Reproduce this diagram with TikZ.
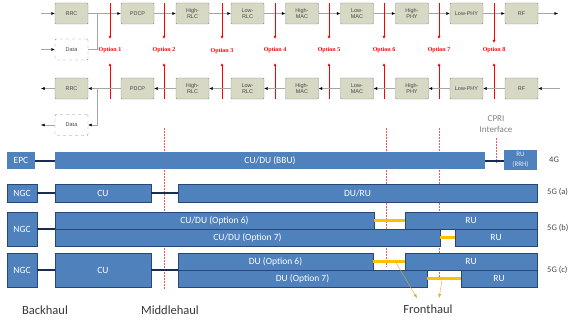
\documentclass[tikz,border=0pt]{standalone}
\usepackage{fontspec}
\setmainfont{Carlito}
\newfontfamily\arialfont{Liberation Sans}
\newfontfamily\timesfont{Liberation Serif}
\usetikzlibrary{arrows.meta,calc,positioning}
\definecolor{boxfill}{RGB}{215,217,197}
\definecolor{boxline}{RGB}{140,140,140}
\definecolor{optred}{RGB}{255,0,0}
\definecolor{cutred}{RGB}{240,90,90}
\definecolor{barblue}{RGB}{79,129,189}
\definecolor{barline}{RGB}{40,70,120}
\definecolor{linknavy}{RGB}{25,45,80}
\definecolor{fhyellow}{RGB}{255,192,0}
\definecolor{fharrow}{RGB}{225,170,40}
\definecolor{txtgray}{RGB}{70,70,70}

\tikzset{
    layer/.style={draw=boxline, fill=boxfill, rounded corners=1pt, minimum width=33pt,
        minimum height=21pt, inner sep=0pt, align=center, text=txtgray,
        font=\arialfont\fontsize{5.5}{6.5}\selectfont},
    databox/.style={layer, dashed, fill=white},
    flow/.style={draw=gray!70, thin, -{Latex[length=3.5pt, width=3pt, black]}},
    optarrow/.style={draw=optred, line width=0.8pt, -{Latex[length=3pt, width=3pt]}},
    optlabel/.style={text=optred, font=\timesfont\bfseries\fontsize{6}{7}\selectfont},
    cut/.style={draw=cutred, line width=0.7pt, dash pattern=on 1.6pt off 1.4pt},
    bar/.style={fill=barblue, draw=barline, line width=0.5pt, inner sep=0pt, text=white,
        font=\fontsize{9.5}{11}\selectfont},
    link/.style={draw=linknavy, line width=2pt},
    fhlink/.style={draw=fhyellow, line width=3pt},
    fhto/.style={draw=fharrow, thin, -{Latex[length=4pt, width=3pt]}},
    rowlabel/.style={anchor=west, inner sep=0pt, text=txtgray, font=\fontsize{8.5}{10}\selectfont},
    haul/.style={text=txtgray!80!black, font=\fontsize{12.5}{14}\selectfont}
}

\begin{document}
\begin{tikzpicture}[x=1pt, y=-1pt]
    \useasboundingbox (0,0) rectangle (573,321);
    \begin{scope}
        % Downlink protocol stack
        \node[layer] (rrc1) at (71.5, 13.5) {RRC};
        \node[layer] (pdcp1) at (137.5, 13.5) {PDCP};
        \node[layer] (hrlc1) at (192.5, 13.5) {High-\\RLC};
        \node[layer] (lrlc1) at (247.5, 13.5) {Low-\\RLC};
        \node[layer] (hmac1) at (302, 13.5) {High-\\MAC};
        \node[layer] (lmac1) at (357, 13.5) {Low-\\MAC};
        \node[layer] (hphy1) at (412, 13.5) {High-\\PHY};
        \node[layer] (lphy1) at (466.5, 13.5) {Low-PHY};
        \node[layer] (rf1) at (521.5, 13.5) {RF};
        \node[databox] (data1) at (71.5, 49.5) {Data};
        \coordinate (in1) at (41, 13.5);
        \coordinate (in2) at (41, 49.5);
        \coordinate (out1) at (558, 13.5);
        \coordinate (join1) at (97, 13.5);
        \draw[flow] (in1) -- (rrc1);
        \draw[flow] (in2) -- (data1);
        \draw[flow] (rrc1) -- (pdcp1);
        \draw[draw=gray!70] (data1.east) -| (join1);
        \draw[flow] (pdcp1) -- (hrlc1);
        \draw[flow] (hrlc1) -- (lrlc1);
        \draw[flow] (lrlc1) -- (hmac1);
        \draw[flow] (hmac1) -- (lmac1);
        \draw[flow] (lmac1) -- (hphy1);
        \draw[flow] (hphy1) -- (lphy1);
        \draw[flow] (lphy1) -- (rf1);
        \draw[flow] (rf1) -- (out1);
    \end{scope}
    \begin{scope}
        % Split options
        \node[optlabel] (opt1) at (110, 50) {Option 1};
        \node[optlabel] (opt2) at (164, 50) {Option 2};
        \node[optlabel] (opt3) at (222, 51) {Option 3};
        \node[optlabel] (opt4) at (275, 50) {Option 4};
        \node[optlabel] (opt5) at (329, 50) {Option 5};
        \node[optlabel] (opt6) at (384, 50) {Option 6};
        \node[optlabel] (opt7) at (439, 50) {Option 7};
        \node[optlabel] (opt8) at (494, 50) {Option 8};
        \draw[optarrow] (opt1 |- 0,3) -- ++(0, 36);
        \draw[optarrow] (opt2 |- 0,3) -- ++(0, 36);
        \draw[optarrow] (opt3 |- 0,3) -- ++(0, 36);
        \draw[optarrow] (opt4 |- 0,3) -- ++(0, 36);
        \draw[optarrow] (opt5 |- 0,3) -- ++(0, 36);
        \draw[optarrow] (opt6 |- 0,3) -- ++(0, 36);
        \draw[optarrow] (opt7 |- 0,3) -- ++(0, 36);
        \draw[optarrow] (opt8 |- 0,3) -- ++(0, 40);
        \draw[optarrow] (opt1 |- 0,99) -- ++(0, -36);
        \draw[optarrow] (opt2 |- 0,99) -- ++(0, -36);
        \draw[optarrow] (opt3 |- 0,99) -- ++(0, -36);
        \draw[optarrow] (opt4 |- 0,99) -- ++(0, -36);
        \draw[optarrow] (opt5 |- 0,99) -- ++(0, -36);
        \draw[optarrow] (opt6 |- 0,99) -- ++(0, -36);
        \draw[optarrow] (opt7 |- 0,99) -- ++(0, -36);
        \draw[optarrow] (opt8 |- 0,99) -- ++(0, -36);
    \end{scope}
    \begin{scope}
        % Uplink protocol stack
        \node[layer] (rrc2) at (71.5, 88.5) {RRC};
        \node[layer] (pdcp2) at (137.5, 88.5) {PDCP};
        \node[layer] (hrlc2) at (192.5, 88.5) {High-\\RLC};
        \node[layer] (lrlc2) at (247.5, 88.5) {Low-\\RLC};
        \node[layer] (hmac2) at (302, 88.5) {High-\\MAC};
        \node[layer] (lmac2) at (357, 88.5) {Low-\\MAC};
        \node[layer] (hphy2) at (412, 88.5) {High-\\PHY};
        \node[layer] (lphy2) at (466.5, 88.5) {Low-PHY};
        \node[layer] (rf2) at (521.5, 88.5) {RF};
        \node[databox] (data2) at (71.5, 125) {Data};
        \coordinate (in3) at (560, 88.5);
        \coordinate (out2) at (41, 88.5);
        \coordinate (out3) at (41, 125);
        \coordinate (join2) at (97, 88.5);
        \draw[flow] (in3) -- (rf2);
        \draw[flow] (rf2) -- (lphy2);
        \draw[flow] (lphy2) -- (hphy2);
        \draw[flow] (hphy2) -- (lmac2);
        \draw[flow] (lmac2) -- (hmac2);
        \draw[flow] (hmac2) -- (lrlc2);
        \draw[flow] (lrlc2) -- (hrlc2);
        \draw[flow] (hrlc2) -- (pdcp2);
        \draw[flow] (pdcp2) -- (rrc2);
        \draw[flow] (join2) |- (data2);
        \draw[flow] (rrc2) -- (out2);
        \draw[flow] (data2) -- (out3);
        \node[text=gray, align=center, font=\fontsize{9}{11}\selectfont] (cpri) at (496, 124.5) {CPRI\\Interface};
    \end{scope}
    % Split lines
    \draw[cut] (164, 128) -- (164, 290);
    \draw[cut] (386, 128) -- (386, 267);
    \draw[cut] (439, 128) -- (439, 280);
    \draw[cut] (496, 138) -- (496, 163);
    \begin{scope}
        % 4G
        \node[bar, draw=none, minimum width=28pt, minimum height=17pt] (epc) at (21, 160.5) {EPC};
        \node[bar, draw=none, minimum width=430pt, minimum height=17pt] (bbu) at (270, 160.5) {CU/DU (BBU)};
        \node[bar, draw=none, minimum width=33pt, minimum height=20pt, align=center,
            font=\fontsize{7}{10}\selectfont, text=white!85!barblue] (rrh) at (520.5, 160) {RU\\(RRH)};
        \draw[link] (epc) -- (bbu);
        \draw[link] (bbu.east) -- (bbu.east -| rrh.west);
        \node[rowlabel] (lte) at (549, 160) {4G};
        % 5G (a)
        \node[bar, minimum width=30pt, minimum height=18pt] (ngca) at (22, 193) {NGC};
        \node[bar, minimum width=96pt, minimum height=18pt] (cua) at (103, 193) {CU};
        \node[bar, minimum width=359pt, minimum height=18pt] (dura) at (357.5, 193) {DU/RU};
        \draw[link] (ngca) -- (cua);
        \draw[link] (cua) -- (dura);
        \node[rowlabel] (nra) at (547, 192) {5G (a)};
        % 5G (b)
        \node[bar, minimum width=30pt, minimum height=34pt] (ngcb) at (22, 229) {NGC};
        \node[bar, minimum width=319pt, minimum height=17pt] (cudu6) at (214.5, 220.5) {CU/DU (Option 6)};
        \node[bar, minimum width=385pt, minimum height=17pt] (cudu7) at (247.5, 237.5) {CU/DU (Option 7)};
        \node[bar, minimum width=132pt, minimum height=17pt] (rub6) at (471, 220.5) {RU};
        \node[bar, minimum width=82pt, minimum height=17pt] (rub7) at (496, 237.5) {RU};
        \draw[link] (ngcb.east) -- (ngcb.east -| cudu7.west);
        \draw[fhlink] (cudu6) -- (rub6);
        \draw[fhlink] (cudu7) -- (rub7);
        \node[rowlabel] (nrb) at (547, 228) {5G (b)};
        % 5G (c)
        \node[bar, minimum width=30pt, minimum height=34pt] (ngcc) at (22, 270) {NGC};
        \node[bar, minimum width=96pt, minimum height=34pt] (cuc) at (103, 270) {CU};
        \node[bar, minimum width=195pt, minimum height=17pt] (du6) at (275.5, 261.5) {DU (Option 6)};
        \node[bar, minimum width=249pt, minimum height=17pt] (du7) at (302.5, 278.5) {DU (Option 7)};
        \node[bar, minimum width=132pt, minimum height=17pt] (ruc6) at (471, 261.5) {RU};
        \node[bar, minimum width=76pt, minimum height=17pt] (ruc7) at (499, 278.5) {RU};
        \draw[link] (ngcc) -- (cuc);
        \draw[link] (cuc.east) -- (cuc.east -| du6.west);
        \draw[fhlink] (du6) -- (ruc6);
        \draw[fhlink] (du7) -- (ruc7);
        \node[rowlabel] (nrc) at (547, 270) {5G (c)};
    \end{scope}
    % Haul labels
    \node[haul] (bh) at (45, 310) {Backhaul};
    \node[haul] (mh) at (170, 310) {Middlehaul};
    \node[haul] (fh) at (428, 309) {Fronthaul};
    \coordinate (fh1) at ($(du6.east)!0.7!(ruc6.west)$);
    \coordinate (fh2) at ($(du7.east)!0.45!(ruc7.west)$);
    \draw[fhto] (fh1) -- ($(fh.north)+(-11,-3)$);
    \draw[fhto] (fh2) -- ($(fh.north)+(11,-3)$);
\end{tikzpicture}
\end{document}
